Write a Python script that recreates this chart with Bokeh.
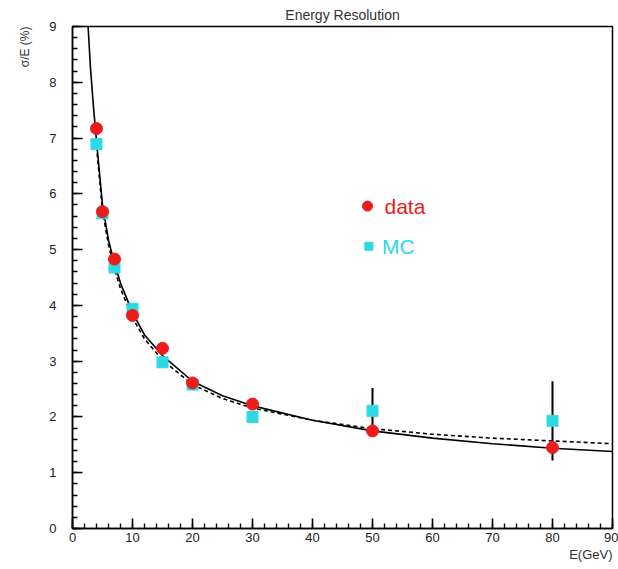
import math
from bokeh.plotting import figure
from bokeh.models import Range1d, Title, SingleIntervalTicker
from bokeh.core.properties import value
from bokeh.embed import file_html
from bokeh.resources import INLINE

# ---- data ----
energy = [4, 5, 7, 10, 15, 20, 30, 50, 80]
data_res = [7.17, 5.68, 4.83, 3.82, 3.23, 2.61, 2.23, 1.75, 1.45]
mc_res = [6.89, 5.65, 4.68, 3.94, 2.98, 2.58, 2.00, 2.11, 1.93]
mc_err = [0.0, 0.0, 0.0, 0.0, 0.0, 0.0, 0.0, 0.41, 0.71]

fit_e = [2.6, 3.0, 3.5, 4.0, 5.0, 6.0, 7.0, 8.0, 10, 12, 15, 20, 25, 30, 40, 50, 60, 70, 80, 90]
fit_solid = [9.0, 8.25, 7.55, 6.95, 5.8, 5.17, 4.75, 4.4, 3.87, 3.47, 3.1, 2.64, 2.38, 2.2, 1.94, 1.75, 1.62, 1.52, 1.44, 1.38]

fit2_e = [4, 5, 6, 7, 8, 10, 12, 15, 20, 25, 30, 40, 50, 60, 70, 80, 90]
fit2_dashed = [6.85, 5.7, 5.08, 4.65, 4.3, 3.78, 3.4, 3.02, 2.58, 2.33, 2.16, 1.94, 1.79, 1.69, 1.62, 1.57, 1.52]

x_ticks = [0, 10, 20, 30, 40, 50, 60, 70, 80, 90]
y_ticks = [0, 1, 2, 3, 4, 5, 6, 7, 8, 9]
N_SUB = 5

RED = "#ee1b1b"
CYAN = "#2fd9e3"
FONT = "Liberation Sans"

X0, X1, Y0, Y1 = x_ticks[0], x_ticks[-1], y_ticks[0], y_ticks[-1]

p = figure(width=618, height=569, x_range=Range1d(X0, X1), y_range=Range1d(Y0, Y1),
           output_backend="svg", toolbar_location=None,
           min_border_left=72, min_border_right=6, min_border_top=25, min_border_bottom=41)
p.background_fill_color = None
p.border_fill_color = "white"
p.xgrid.visible = False
p.ygrid.visible = False
p.outline_line_color = "black"
p.outline_line_width = 1.5

p.title.text = "Energy Resolution"
p.title.align = "center"
p.title.text_font = FONT
p.title.text_font_size = "14px"
p.title.text_font_style = "normal"
p.title.text_color = "#333333"
p.title.standoff = 8

p.xaxis.ticker = SingleIntervalTicker(interval=10, num_minor_ticks=N_SUB)
p.yaxis.ticker = SingleIntervalTicker(interval=1, num_minor_ticks=N_SUB)
for ax in (p.xaxis, p.yaxis):
    ax.axis_line_color = "black"
    ax.axis_line_width = 1.5
    ax.major_tick_in = 10
    ax.major_tick_out = 0
    ax.minor_tick_in = 5
    ax.minor_tick_out = 0
    ax.major_tick_line_color = "black"
    ax.minor_tick_line_color = "black"
    ax.major_tick_line_width = 1.6
    ax.minor_tick_line_width = 1.4
    ax.major_label_text_font = FONT
    ax.major_label_text_font_size = "13px"
    ax.major_label_text_color = "#222222"
p.xaxis.major_label_standoff = 4
p.yaxis.major_label_standoff = 16

# fit curves
p.line(fit_e, fit_solid, line_color="black", line_width=1.6)
p.line(fit2_e, fit2_dashed, line_color="black", line_width=1.6, line_dash="4 3")

# error bars on MC
lo = [m - e for m, e in zip(mc_res, mc_err)]
hi = [m + e for m, e in zip(mc_res, mc_err)]
p.segment(x0=energy, y0=lo, x1=energy, y1=hi, line_color="black", line_width=2)

# points
p.scatter(energy, mc_res, marker="square", size=11, fill_color=CYAN, line_color=CYAN)
p.scatter(energy, data_res, marker="circle", size=12, fill_color=RED, line_color=RED)

# legend (manual)
p.scatter([49.17], [5.78], marker="circle", size=10, fill_color=RED, line_color=RED)
p.text([52.0], [5.78], text=["data"], text_color=RED, text_font=value(FONT),
       text_font_size="21px", text_baseline="middle", text_align="left")
p.scatter([49.4], [5.06], marker="square", size=8, fill_color=CYAN, line_color=CYAN)
p.text([51.6], [5.06], text=["MC"], text_color=CYAN, text_font=value(FONT),
       text_font_size="21px", text_baseline="middle", text_align="left")

# axis labels as side titles aligned to the axis ends
p.add_layout(Title(text="σ/E (%)", align="right", text_font=FONT, text_font_size="12px",
                   text_font_style="normal", text_color="#333333", standoff=30), "left")
p.add_layout(Title(text="E(GeV)", align="right", text_font=FONT, text_font_size="13px",
                   text_font_style="normal", text_color="#333333", standoff=0), "below")

open("out.html", "w").write(file_html(p, INLINE))
